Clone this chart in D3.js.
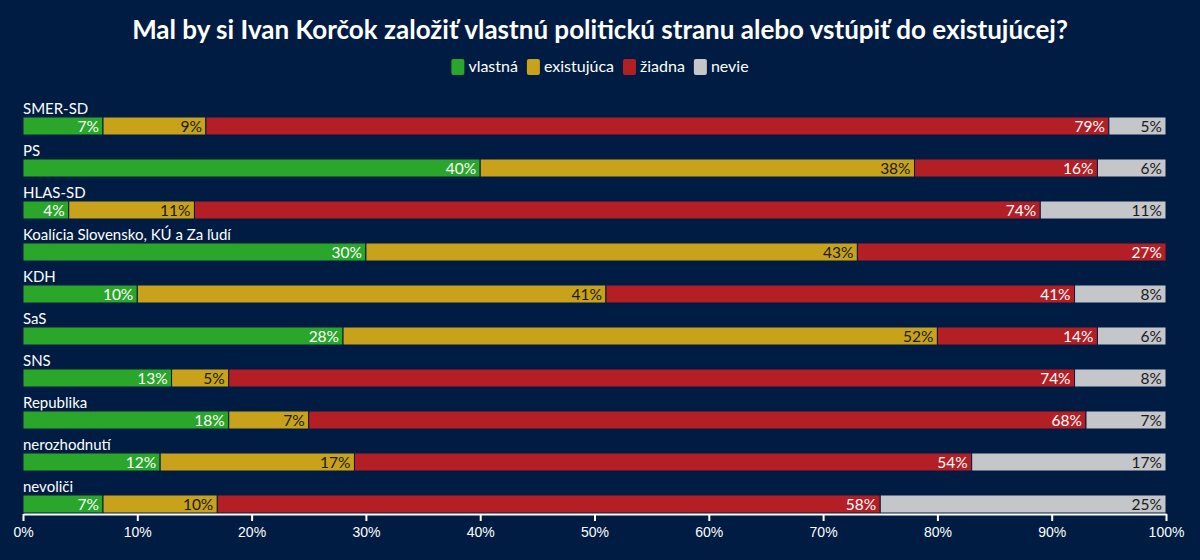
<!DOCTYPE html>
<html><head><meta charset="utf-8">
<script src="https://cdn.jsdelivr.net/npm/d3@7"></script>
<style>
html,body{margin:0;padding:0;background:#001c42;}
svg{display:block;font-family:"Source Sans Pro","Lato","Noto Sans",sans-serif;}
</style></head>
<body><svg id="c" width="1200" height="560"></svg>
<script>
const categories = ["SMER-SD","PS","HLAS-SD","Koalícia Slovensko, KÚ a Za ľudí","KDH","SaS","SNS","Republika","nerozhodnutí","nevoliči"];
const seriesNames = ["vlastná","existujúca","žiadna","nevie"];
const vlastna    = [7,40,4,30,10,28,13,18,12,7];
const existujuca = [9,38,11,43,41,52,5,7,17,10];
const ziadna     = [79,16,74,27,41,14,74,68,54,58];
const nevie      = [5,6,11,0,8,6,8,7,17,25];
const tickLabels = ["0%","10%","20%","30%","40%","50%","60%","70%","80%","90%","100%"];
const colors = ["#2aa62b","#c9a21b","#b41f25","#c4c6ca"];
const textColors = ["#ffffff","#1a1a1a","#ffffff","#1a1a1a"];

const seriesVals = [vlastna, existujuca, ziadna, nevie];
const svg = d3.select("#c");
const W = 1200, H = 560;
svg.append("rect").attr("width",W).attr("height",H).attr("fill","#001c42");

const x = d3.scaleLinear().domain([0,100]).range([23,1166]);
const y = d3.scaleBand().domain(categories).range([104,524]).paddingInner(0).paddingOuter(0);

svg.append("text").attr("x",W/2).attr("y",39).attr("text-anchor","middle")
  .attr("fill","#fff").attr("font-size",26).attr("font-weight",700)
  .text("Mal by si Ivan Korčok založiť vlastnú politickú stranu alebo vstúpiť do existujúcej?");

// legend
const lg = svg.append("g");
let lx = 0;
seriesNames.forEach((n,i)=>{
  const g = lg.append("g").attr("transform",`translate(${lx},0)`);
  g.append("rect").attr("x",0).attr("y",-8).attr("width",13).attr("height",16).attr("rx",2).attr("fill",colors[i]);
  const t = g.append("text").attr("x",17).attr("y",5).attr("fill","#fff").attr("font-size",16).text(n);
  lx += 17 + t.node().getComputedTextLength() + 9;
});
lg.attr("transform",`translate(${(W-(lx-9))/2},67)`);

const stackData = categories.map((c,i)=>{
  const o={cat:c}; seriesNames.forEach((s,j)=>o[s]=seriesVals[j][i]); return o;
});
const stack = d3.stack().keys(seriesNames)(stackData);

const barH = 18;
categories.forEach((c)=>{
  svg.append("text").attr("x",23).attr("y",y(c)+10).attr("fill","#fff").attr("font-size",15).text(c);
});

stack.forEach((layer,j)=>{
  const g = svg.append("g");
  layer.forEach((d,i)=>{
    const v = d[1]-d[0];
    if(v<=0) return;
    const yy = y(categories[i])+13;
    g.append("rect").attr("x",x(d[0])).attr("y",yy).attr("width",x(d[1])-x(d[0])).attr("height",barH)
      .attr("fill",colors[j]).attr("stroke","#001c42").attr("stroke-width",1);
    g.append("text").attr("x",x(d[1])-4).attr("y",yy+barH/2+5.5).attr("text-anchor","end")
      .attr("fill",textColors[j]).attr("font-size",15.5).text(v+"%");
  });
});

const ax = svg.append("g").attr("transform","translate(0,514)")
  .call(d3.axisBottom(x).tickValues(d3.range(0,101,10)).tickFormat((d,i)=>tickLabels[i]).tickSize(7).tickSizeOuter(0));
ax.select(".domain").attr("stroke","#fff").attr("stroke-width",2);
ax.selectAll(".tick line").attr("stroke","#fff").attr("stroke-width",2);
ax.selectAll(".tick text").attr("fill","#fff").attr("font-size",14).attr("dy","0.9em").attr("font-family","inherit");
</script></body></html>
